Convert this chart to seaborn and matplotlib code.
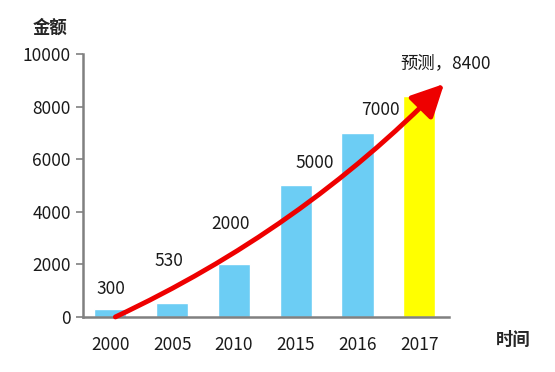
import matplotlib
matplotlib.use("Agg")
import matplotlib.pyplot as plt
from matplotlib.patches import FancyArrowPatch
import pandas as pd
import seaborn as sns

# ------------------------------------------------------------------ #
# Data
# ------------------------------------------------------------------ #
years = ["2000", "2005", "2010", "2015", "2016", "2017"]
amounts = [300, 530, 2000, 5000, 7000, 8400]
bar_labels = ["300", "530", "2000", "5000", "7000", "预测，8400"]
bar_colors = ["#6ccdf4", "#6ccdf4", "#6ccdf4", "#6ccdf4", "#6ccdf4", "#ffff00"]
y_ticks = [0, 2000, 4000, 6000, 8000, 10000]

# label placement (offsets, not data)
label_dx = [0.0, -0.05, -0.05, 0.3, 0.37, 0.42]
label_dy = [780, 1600, 1540, 860, 870, 1260]

sns.set_style("white")
plt.rcParams["font.family"] = ["Noto Sans CJK SC", "DejaVu Sans"]

df = pd.DataFrame({"year": years, "amount": amounts})

fig = plt.figure(figsize=(5.55, 3.72), dpi=100)
ax = fig.add_axes([0.15, 0.148, 0.659, 0.707])

sns.barplot(data=df, x="year", y="amount", hue="year", palette=bar_colors,
            width=0.52, legend=False, saturation=1, ax=ax)

for i, (v, lab) in enumerate(zip(amounts, bar_labels)):
    ax.text(i + label_dx[i], v + label_dy[i], lab, ha="center", va="center",
            fontsize=12.5, color="#1a1a1a")

# red growth arrow
arrow = FancyArrowPatch((0.08, 0), (5.4, 8860),
                        connectionstyle="arc3,rad=0.09",
                        arrowstyle="-|>,head_length=0.9,head_width=0.45",
                        mutation_scale=22, color="#ee0000", lw=3.5,
                        shrinkA=0, shrinkB=0, zorder=5, clip_on=False)
ax.add_patch(arrow)

ax.set_xlim(-0.44, 5.48)
ax.set_ylim(0, 10000)
ax.set_yticks(y_ticks)
ax.set_xlabel("")
ax.set_ylabel("")

for side in ["top", "right"]:
    ax.spines[side].set_visible(False)
for side in ["left", "bottom"]:
    ax.spines[side].set_color("#808080")
    ax.spines[side].set_linewidth(1.8)

ax.tick_params(axis="y", left=True, length=5, width=1.2, color="#808080",
               labelsize=12.5, labelcolor="#1a1a1a", pad=4)
ax.tick_params(axis="x", bottom=False, labelsize=12.5, labelcolor="#1a1a1a", pad=10)

fig.text(0.09, 0.925, "金额", fontsize=12.5, fontweight="bold", ha="center", va="center")
fig.text(0.925, 0.085, "时间", fontsize=12.5, fontweight="bold", ha="center", va="center")

fig.savefig("out.png", dpi=100)
